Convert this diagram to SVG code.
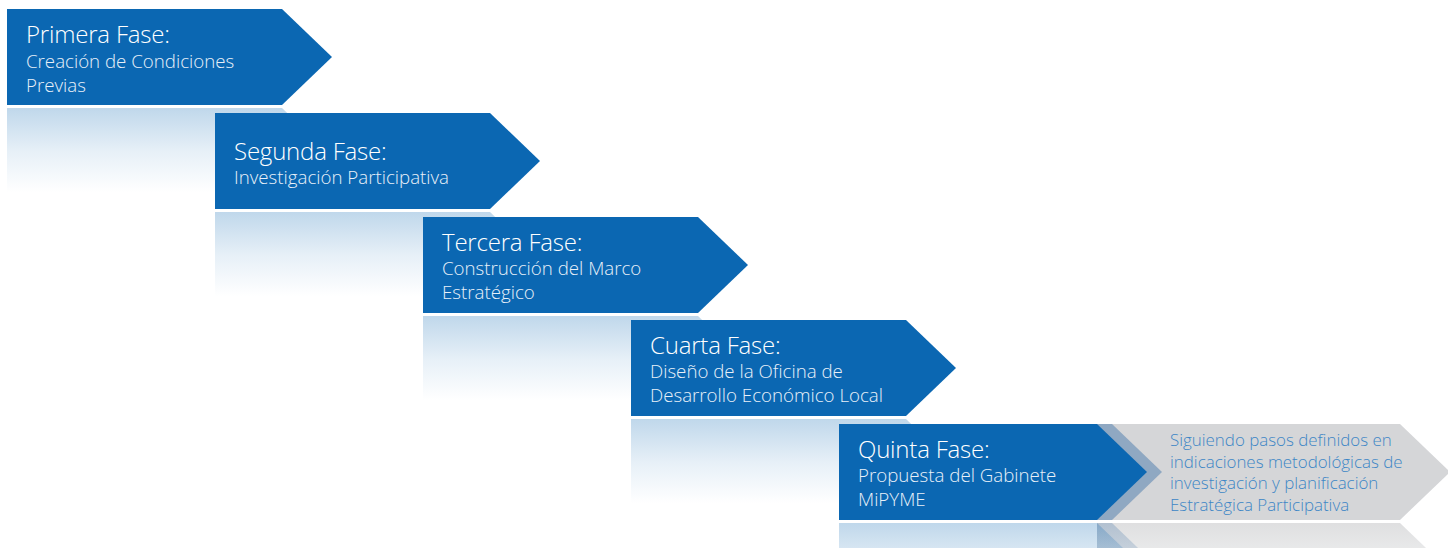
<svg xmlns="http://www.w3.org/2000/svg" width="1448" height="548" viewBox="0 0 1448 548">
<defs>
<linearGradient id="rb" x1="0" y1="0" x2="0" y2="1">
<stop offset="0" stop-color="#0b67b2" stop-opacity="0.26"/>
<stop offset="0.45" stop-color="#0b67b2" stop-opacity="0.1"/>
<stop offset="0.88" stop-color="#0b67b2" stop-opacity="0"/>
</linearGradient>
<linearGradient id="rg" x1="0" y1="0" x2="0" y2="1">
<stop offset="0" stop-color="#c9cacc" stop-opacity="0.6"/>
<stop offset="0.88" stop-color="#c9cacc" stop-opacity="0"/>
</linearGradient>
<linearGradient id="rm" x1="0" y1="0" x2="0" y2="1">
<stop offset="0" stop-color="#8ea8c3" stop-opacity="0.55"/>
<stop offset="0.88" stop-color="#8ea8c3" stop-opacity="0"/>
</linearGradient>
</defs>
<style>
.arrow{fill:#0b67b2}
.gray{fill:#d5d6d8}
.band{fill:#8fa8c2}
.title{font-family:"Open Sans","Liberation Sans",sans-serif;font-weight:300;font-size:24px;fill:#ffffff;letter-spacing:-0.2px}
.sub{font-family:"Open Sans","Liberation Sans",sans-serif;font-weight:300;font-size:18.7px;fill:#e8f0f9}
.note{font-family:"Open Sans","Liberation Sans",sans-serif;font-weight:300;font-size:16.9px;fill:#3d86c6}
</style>
<rect width="1448" height="548" fill="#ffffff"/>

<g id="fase1">
<polygon points="7,108 282,108 332,156 282,204 7,204" fill="url(#rb)"/>
<polygon class="arrow" points="7,9 282,9 332,57 282,105 7,105"/>
<text class="title" x="26" y="43">Primera Fase:</text>
<text class="sub" x="26" y="68">Creación de Condiciones</text>
<text class="sub" x="26" y="92">Previas</text>
</g>

<g id="fase2">
<polygon points="215,212 490,212 540,260 490,308 215,308" fill="url(#rb)"/>
<polygon class="arrow" points="215,113 490,113 540,161 490,209 215,209"/>
<text class="title" x="234" y="160">Segunda Fase:</text>
<text class="sub" x="234" y="184">Investigación Participativa</text>
</g>

<g id="fase3">
<polygon points="423,316 698,316 748,364 698,412 423,412" fill="url(#rb)"/>
<polygon class="arrow" points="423,217 698,217 748,265 698,313 423,313"/>
<text class="title" x="442" y="251">Tercera Fase:</text>
<text class="sub" x="442" y="275">Construcción del Marco</text>
<text class="sub" x="442" y="299">Estratégico</text>
</g>

<g id="fase4">
<polygon points="631,419 906,419 956,467 906,515 631,515" fill="url(#rb)"/>
<polygon class="arrow" points="631,320 906,320 956,368 906,416 631,416"/>
<text class="title" x="650" y="354">Cuarta Fase:</text>
<text class="sub" x="650" y="378">Diseño de la Oficina de</text>
<text class="sub" x="650" y="402">Desarrollo Económico Local</text>
</g>

<g id="nota">
<polygon points="1097,523 1400,523 1450,571 1400,619 1097,619" fill="url(#rg)"/>
<polygon points="1097,523 1112,523 1162,571 1112,619 1097,619" fill="url(#rm)"/>
<polygon class="gray" points="1097,424 1400,424 1450,472 1400,520 1097,520"/>
<polygon class="band" points="1097,424 1112,424 1162,472 1112,520 1097,520"/>
<text class="note" x="1170" y="446">Siguiendo pasos definidos en</text>
<text class="note" x="1170" y="468">indicaciones metodológicas de</text>
<text class="note" x="1170" y="489">investigación y planificación</text>
<text class="note" x="1170" y="511">Estratégica Participativa</text>
</g>

<g id="fase5">
<polygon points="839,523 1097,523 1147,571 1097,619 839,619" fill="url(#rb)"/>
<polygon class="arrow" points="839,424 1097,424 1147,472 1097,520 839,520"/>
<text class="title" x="858" y="458">Quinta Fase:</text>
<text class="sub" x="858" y="482">Propuesta del Gabinete</text>
<text class="sub" x="858" y="506">MiPYME</text>
</g>

<g id="connectors"></g>
</svg>
